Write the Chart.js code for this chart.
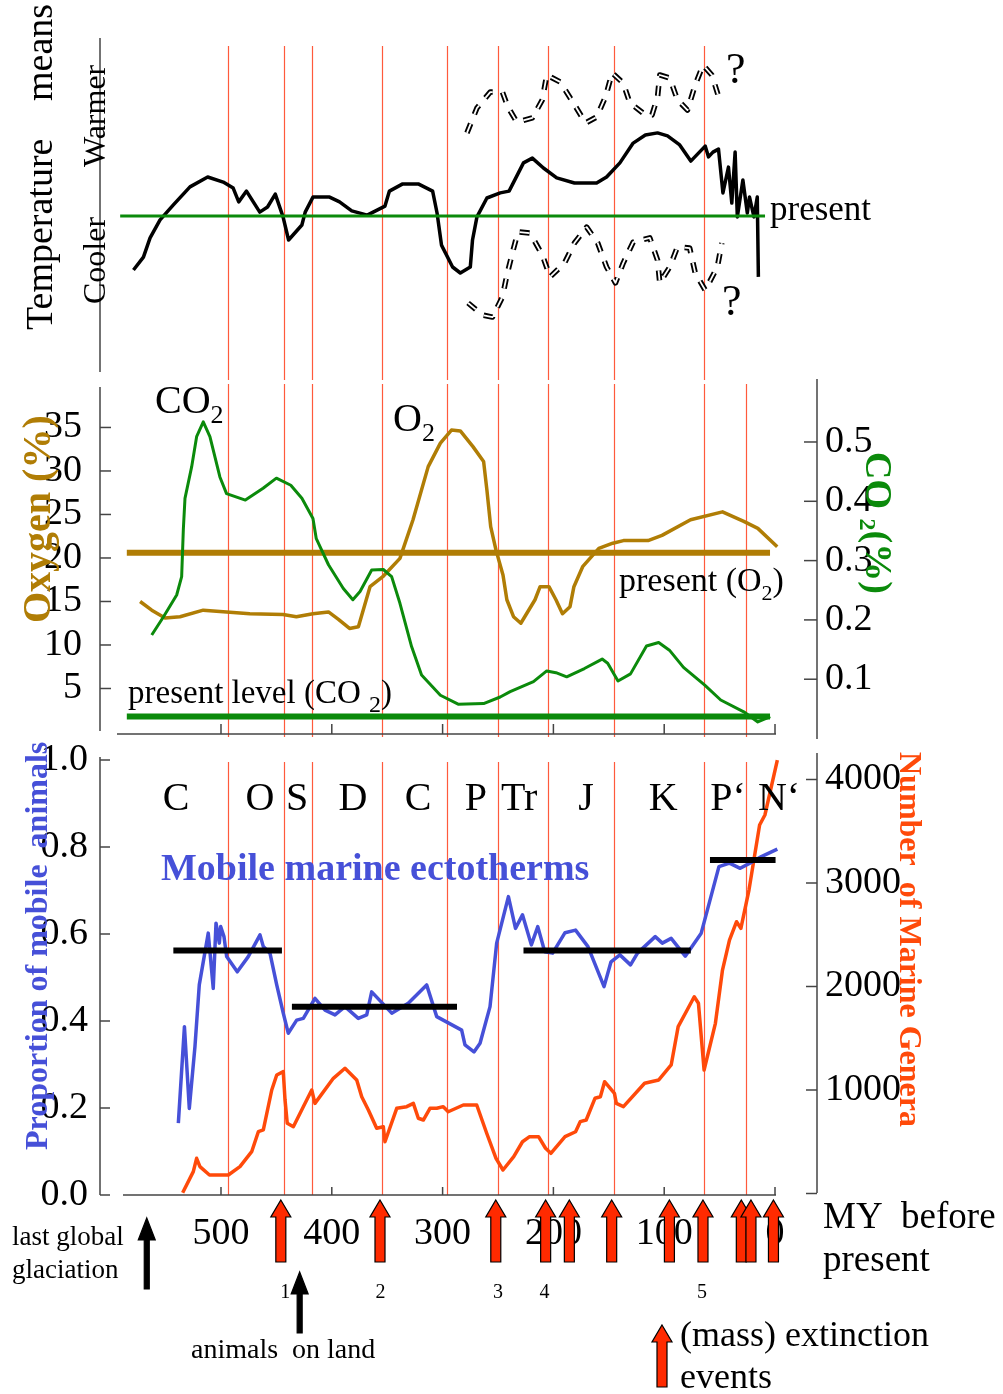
<!DOCTYPE html>
<html>
<head>
<meta charset="utf-8">
<script src="https://cdn.jsdelivr.net/npm/chart.js@4.4.1/dist/chart.umd.min.js"></script>
<style>
  body { margin: 0; background: #fff; }
  #wrap { position: relative; width: 1003px; height: 1394px; }
  #wrap canvas { position: absolute; left: 0; top: 0; }
</style>
</head>
<body>
<div id="wrap">
  <canvas id="tempChart" width="1003" height="1394"></canvas>
  <canvas id="gasChart" width="1003" height="1394"></canvas>
  <canvas id="lifeChart" width="1003" height="1394"></canvas>
</div>
<script>
// ---- data (x = million years before present) ----
const xTicks = [500, 400, 300, 200, 100, 0];
const periodBoundsMY = [494, 443, 418, 355, 296, 250, 205, 145, 64, 26];
const periodLabels = ['C', 'O', 'S', 'D', 'C', 'P', 'Tr', 'J', 'K', 'P\u2018', 'N\u2018'];
const periodLabelMY = [540.6, 464.8, 431.4, 380.9, 322.2, 269.9, 231, 170.6, 101, 42.4, -3.6];

// temperature (relative units, 0 = present)
const tempMY = [579,570,564,555,543,528,512,498,489,484,477,465,458,451,444,439,427,424,417,402,393,382,368,352,348,336,322,309,305,301,291,284,275,273,269,260,248,240,227,219,209,197,181,161,152,140,128,117,106,97,86,76,63,60,56,51,47,42,39,36,34,29,25,23,19,16,15];
const tempVal = [-1.8,-1.37,-0.73,-0.13,0.37,0.97,1.3,1.13,0.93,0.47,0.83,0.13,0.3,0.73,-0.03,-0.8,-0.3,0.13,0.63,0.63,0.47,0.17,0.03,0.33,0.83,1.07,1.07,0.83,0.1,-0.97,-1.7,-1.9,-1.7,-0.8,-0.03,0.6,0.77,0.83,1.77,1.93,1.6,1.27,1.1,1.1,1.3,1.77,2.43,2.7,2.77,2.67,2.37,1.83,2.33,1.97,2.13,2.23,0.77,1.63,0.43,2.13,-0.03,1.2,0.1,0.63,-0.03,0.63,-2.03];
const warmMY = [278,269,257,246,241,233,219,210,206,194,182,171,161,153,147,137,131,117,111,106,104,95,88,79,72,65,57,50];
const warmVal = [2.77,3.6,4.13,4.13,3.63,3.13,3.27,3.87,4.7,4.47,3.77,3.1,3.3,3.97,4.77,4.43,3.77,3.37,3.37,3.97,4.7,4.6,3.87,3.53,4.37,5.03,4.7,3.87];
const coolMY = [277,264,255,246,242,237,232,221,210,203,190,181,170,160,152,144,137,128,113,106,104,95,88,77,72,63,52,48];
const coolVal = [-2.9,-3.3,-3.37,-2.7,-1.97,-1.23,-0.53,-0.57,-1.3,-2.03,-1.57,-0.9,-0.37,-0.9,-1.7,-2.23,-1.57,-0.87,-0.73,-1.47,-2.23,-1.7,-1.03,-1.07,-1.9,-2.47,-1.7,-0.9];
const presentTemp = 0;
const tempPresentSpan = [591, 9];

// oxygen (%) and CO2 (%)
const o2MY = [573,562.5,550.5,537,516,495,474,444,432,417,403,394,384,376,365.5,354,338.5,326.7,313,302,292,284,272.6,263,260,256.6,251.8,245.5,242,236,229.4,216.6,212,204,197.7,191.8,185,181.5,173.6,159,146.4,136.8,114.6,102,76.2,47.4,28.2,15.5,-2];
const o2Val = [15,14,13.1,13.25,14,13.8,13.6,13.5,13.25,13.6,13.8,12.95,11.9,12.1,16.7,17.85,19.95,24.4,30.5,33.2,34.7,34.6,32.8,31.1,27.8,23.6,20.9,18.05,15.2,13.25,12.5,15.2,16.7,16.7,15.2,13.6,14.4,16.7,19,21.1,21.7,22,22,22.6,24.4,25.3,24.2,23.4,21.3];
const co2MY = [562.5,552,540,535.5,534,532.5,526.5,522,516,510,501,495,478,462,450,437,427,417,414,403,389.6,381,374.5,364,353.5,346,338.5,328,319,302,286,263,248,239,218,206,197.7,188,172,156,151,141.7,130.4,116,105,95.3,82.6,63.4,49,28.2,15.5,4.3];
const co2Val = [0.1745,0.205,0.242,0.273,0.352,0.405,0.458,0.509,0.534,0.509,0.441,0.413,0.402,0.422,0.439,0.427,0.405,0.371,0.337,0.293,0.253,0.234,0.248,0.284,0.285,0.273,0.228,0.155,0.107,0.073,0.058,0.059,0.070,0.079,0.096,0.114,0.111,0.104,0.118,0.134,0.127,0.097,0.109,0.156,0.162,0.149,0.120,0.090,0.065,0.045,0.028,0.037];
const presentO2 = 20.6;
const presentCO2 = 0.037;
const gasPresentSpan = [585, 4.5];
const o2Ticks = [5, 10, 15, 20, 25, 30, 35];
const co2Ticks = [0.1, 0.2, 0.3, 0.4, 0.5];

// proportion of mobile animals and number of marine genera
const mobileMY = [538.5,533,528.6,523.5,519.6,511.5,507,504.5,501.5,500.3,497.3,494.9,485.3,475.4,464.8,461.8,455.8,449.7,443.8,439.3,431.7,425.7,415.2,406.1,397.1,388.1,376.1,368.5,364,345.9,331,314.4,305.3,282.8,279.8,271.7,266.2,257.2,251.2,240.6,234.2,227.9,219.9,214.1,207.8,200.7,189.5,180,168.8,154.3,148,140,130.4,124.1,108.1,101.7,93.7,81,66.6,50.6,41.1,31.4,21.8,12.3,-2.1];
const mobileVal = [0.165,0.387,0.199,0.341,0.483,0.602,0.475,0.625,0.579,0.617,0.594,0.548,0.513,0.548,0.598,0.571,0.556,0.483,0.418,0.372,0.402,0.406,0.452,0.425,0.414,0.433,0.406,0.414,0.467,0.418,0.441,0.483,0.410,0.379,0.345,0.329,0.349,0.433,0.579,0.686,0.613,0.644,0.575,0.617,0.559,0.556,0.603,0.609,0.571,0.479,0.536,0.552,0.529,0.556,0.594,0.579,0.590,0.549,0.602,0.755,0.763,0.751,0.764,0.778,0.795];
const generaMY = [534.6,525,522,519,510.4,493.4,482.9,472.3,466.3,461.8,454.2,449.7,443.8,442.2,440.2,434.7,425.7,418.1,415.2,398.6,388.1,377.5,373,367,359.5,353.5,352,341.4,332.4,326.4,321.9,317.4,311.4,305.3,299.4,294.9,281.3,269.2,260.2,251.8,245.5,235.8,227.9,221.5,213.4,207.1,202.3,189.5,180,175.8,170.4,162.5,157.6,153.8,144.9,143.2,136.8,117.7,104.9,93.7,87.4,79.3,72.9,69.1,64,53.8,47.4,41.1,34.7,30.8,23.5,13.9,9.1,-2.1];
const generaVal = [8,211,340,259,179,179,259,404,597,614,1000,1145,1177,903,678,645,839,1000,871,1113,1210,1097,935,807,630,645,500,823,839,871,727,710,823,823,839,790,855,855,582,340,227,356,500,549,549,437,388,549,597,694,710,920,935,1080,968,871,839,1065,1097,1242,1612,1773,1901,1838,1193,1644,2159,2449,2626,2562,2932,3560,3657,4188];
const meanBarFrom = [543, 436, 227, 58.7];
const meanBarTo = [445, 287, 76, -0.5];
const meanBarVal = [0.562, 0.433, 0.562, 0.770];
const propTicks = [0, 0.2, 0.4, 0.6, 0.8, 1.0];
const generaTicks = [0, 1000, 2000, 3000, 4000];

// events
const extinctionMY = [446, 356.5, 252, 207, 185.6, 147.4, 95.3, 65, 30.4, 21.7, 1.4];
const bigFiveMY = [442, 356, 250, 208, 66];
const glaciationMY = 567;
const landAnimalsMY = 429;

// ---- styling helpers ----
const FONT = "'Liberation Serif', 'Times New Roman', serif";
const AXIS = '#444';
const GREEN = '#0b8a0b';
const BROWN = '#b07d05';
const BLUE = '#4650d8';
const ORANGE = '#ff4a0a';
const EVENT_RED = '#ff2a00';
Chart.defaults.font.family = FONT;
Chart.defaults.color = '#000';

function series(xs, ys, color, width, axis, dash) {
    return {
        data: xs.map((x, i) => ({ x: x, y: ys[i] })),
        borderColor: color,
        borderWidth: width,
        borderDash: dash || [],
        yAxisID: axis || 'y',
        pointRadius: 0,
        tension: 0,
        fill: false,
        borderJoinStyle: 'round',
        clip: false
    };
}

function xScale(withLabels) {
    const s = {
        type: 'linear', reverse: true, min: -37.9, max: 609.2,
        display: withLabels,
        grid: { display: false, drawTicks: false },
        border: { display: false },
        afterBuildTicks: sc => { sc.ticks = xTicks.map(v => ({ value: v })); },
        ticks: { autoSkip: false, maxRotation: 0, padding: 16, color: '#000', font: { size: 38 } }
    };
    if (withLabels) s.afterFit = sc => { sc.height = 70; };
    return s;
}

function yScale(pos, min, max, tickVals, fmt, width, pad) {
    return {
        position: pos, min: min, max: max,
        grid: { display: false, drawTicks: false },
        border: { display: false },
        afterBuildTicks: sc => { sc.ticks = tickVals.map(v => ({ value: v })); },
        afterFit: sc => { sc.width = width; },
        ticks: { padding: pad, color: '#000', font: { size: 38 }, callback: v => fmt(v) }
    };
}

function baseOptions(padding, scales) {
    return {
        responsive: false, devicePixelRatio: 1, animation: false, events: [],
        layout: { padding: padding },
        plugins: { legend: { display: false }, tooltip: { enabled: false } },
        scales: scales
    };
}

function stroke(ctx, pts, color, w) {
    ctx.save();
    ctx.strokeStyle = color || AXIS;
    ctx.lineWidth = w || 1.5;
    ctx.beginPath();
    pts.forEach(([x, y], i) => i ? ctx.lineTo(x, y) : ctx.moveTo(x, y));
    ctx.stroke();
    ctx.restore();
}

// text with optional subscripts: parts = [[text, size, dy]]
function rich(ctx, parts, x, y, o) {
    o = o || {};
    ctx.save();
    ctx.translate(x, y);
    if (o.rot) ctx.rotate(o.rot);
    ctx.fillStyle = o.color || '#000';
    ctx.textBaseline = 'alphabetic';
    ctx.textAlign = 'left';
    const wt = o.bold ? 'bold ' : '';
    let total = 0;
    parts.forEach(([t, s]) => { ctx.font = wt + s + 'px ' + FONT; total += ctx.measureText(t).width; });
    let cx = o.center ? -total / 2 : 0;
    parts.forEach(([t, s, dy]) => {
        ctx.font = wt + s + 'px ' + FONT;
        ctx.fillText(t, cx, dy || 0);
        cx += ctx.measureText(t).width;
    });
    ctx.restore();
}

function arrow(ctx, x, yTop, yBot, shaftW, headW, headL, fill) {
    ctx.save();
    ctx.beginPath();
    ctx.moveTo(x, yTop);
    ctx.lineTo(x + headW / 2, yTop + headL);
    ctx.lineTo(x + shaftW / 2, yTop + headL);
    ctx.lineTo(x + shaftW / 2, yBot);
    ctx.lineTo(x - shaftW / 2, yBot);
    ctx.lineTo(x - shaftW / 2, yTop + headL);
    ctx.lineTo(x - headW / 2, yTop + headL);
    ctx.closePath();
    ctx.fillStyle = fill;
    ctx.fill();
    ctx.strokeStyle = '#000';
    ctx.lineWidth = 1.2;
    ctx.stroke();
    ctx.restore();
}

function periodLines(chart, bounds, y0, y1) {
    const xs = chart.scales.x;
    bounds.forEach(m => {
        const px = Math.round(xs.getPixelForValue(m)) + 0.5;
        stroke(chart.ctx, [[px, y0], [px, y1]], '#ff5a3c', 1.2);
    });
}

function decor(id, before, after) {
    return { id: id, beforeDatasetsDraw: c => before(c), afterDatasetsDraw: c => after(c) };
}

const UP = -Math.PI / 2;
const DOWN = Math.PI / 2;

// ---- panel 1: temperature ----
new Chart(document.getElementById('tempChart'), {
    type: 'line',
    data: {
        datasets: [
            series(tempPresentSpan, [presentTemp, presentTemp], GREEN, 3),
            series(tempMY, tempVal, '#000', 3.5),
            series(warmMY, warmVal, '#fff', 1.8, 'y', [10, 10]),
            series(coolMY, coolVal, '#fff', 1.8, 'y', [10, 10]),
            series(warmMY, warmVal, '#000', 5.5, 'y', [10, 10]),
            series(coolMY, coolVal, '#000', 5.5, 'y', [10, 10])
        ]
    },
    options: baseOptions({ left: 100, right: 186, top: 38, bottom: 1022 }, {
        x: xScale(false),
        y: { display: false, min: -5.2, max: 5.933 }
    }),
    plugins: [decor('tempDecor',
        c => periodLines(c, periodBoundsMY.slice(0, 9), 46, 380),
        c => {
            const ctx = c.ctx;
            stroke(ctx, [[100, 38], [100, 372]]);
            rich(ctx, [['Temperature', 38]], 52, 330, { rot: UP });
            rich(ctx, [['means', 38]], 52, 101, { rot: UP });
            rich(ctx, [['Cooler', 32]], 105, 304, { rot: UP });
            rich(ctx, [['Warmer', 32]], 105, 167, { rot: UP });
            rich(ctx, [['present', 35]], 770, 220);
            rich(ctx, [['?', 44]], 726, 83);
            rich(ctx, [['?', 44]], 722, 315);
        })]
});

// ---- panel 2: oxygen and CO2 ----
new Chart(document.getElementById('gasChart'), {
    type: 'line',
    data: {
        datasets: [
            series(co2MY, co2Val, GREEN, 3, 'yR'),
            series(o2MY, o2Val, BROWN, 3.5, 'yL'),
            series(gasPresentSpan, [presentO2, presentO2], BROWN, 6, 'yL'),
            series(gasPresentSpan, [presentCO2, presentCO2], GREEN, 6, 'yR')
        ]
    },
    options: baseOptions({ left: 10, right: 66, top: 379, bottom: 655 }, {
        x: xScale(false),
        yL: yScale('left', -0.805, 40.57, o2Ticks, v => String(v), 90, 18),
        yR: yScale('right', -0.0008, 0.6062, co2Ticks, v => v.toFixed(1), 120, 8)
    }),
    plugins: [decor('gasDecor',
        c => periodLines(c, periodBoundsMY, 384, 737),
        c => {
            const ctx = c.ctx, xs = c.scales.x, yL = c.scales.yL, yR = c.scales.yR;
            stroke(ctx, [[100, 387], [100, 731]]);
            yL.ticks.forEach(t => { const p = yL.getPixelForValue(t.value); stroke(ctx, [[100, p], [111, p]]); });
            stroke(ctx, [[817, 379], [817, 739]]);
            yR.ticks.forEach(t => { const p = yR.getPixelForValue(t.value); stroke(ctx, [[804, p], [817, p]]); });
            stroke(ctx, [[117, 734], [776, 734]]);
            xTicks.forEach(v => { const p = xs.getPixelForValue(v); stroke(ctx, [[p, 734], [p, 724]]); });

            rich(ctx, [['CO', 40], ['2', 26, 10]], 155, 413);
            rich(ctx, [['O', 40], ['2', 26, 10]], 393, 431);
            rich(ctx, [['present (O', 34], ['2', 22, 9], [')', 34]], 619, 591);
            rich(ctx, [['present level (CO ', 33], ['2', 24, 9], [')', 33]], 128, 703);
            rich(ctx, [['Oxygen (%)', 40]], 50, 623, { rot: UP, bold: true, color: BROWN });
            rich(ctx, [['CO', 38], [' ', 38], ['2', 24, 6], ['(%)', 38]], 866, 452, { rot: DOWN, bold: true, color: GREEN });
        })]
});

// ---- panel 3: mobile animals and marine genera ----
new Chart(document.getElementById('lifeChart'), {
    type: 'line',
    data: {
        datasets: meanBarFrom.map((f, i) => series([f, meanBarTo[i]], [meanBarVal[i], meanBarVal[i]], '#000', 6, 'yL'))
            .concat([
                series(mobileMY, mobileVal, BLUE, 3.5, 'yL'),
                series(generaMY, generaVal, ORANGE, 3.5, 'yR')
            ])
    },
    options: baseOptions({ left: 10, right: 66, top: 752, bottom: 129 }, {
        x: xScale(true),
        yL: yScale('left', 0, 1.0184, propTicks, v => v.toFixed(1), 90, 12),
        yR: yScale('right', -14.5, 4265.7, generaTicks, v => (v === 0 ? '' : String(v)), 120, 8)
    }),
    plugins: [decor('lifeDecor',
        c => periodLines(c, periodBoundsMY, 762, 1195),
        c => {
            const ctx = c.ctx, xs = c.scales.x, yL = c.scales.yL, yR = c.scales.yR;
            const bottom = c.chartArea.bottom;
            stroke(ctx, [[100, 757], [100, bottom]]);
            yL.ticks.forEach(t => { const p = yL.getPixelForValue(t.value); stroke(ctx, [[100, p], [110, p]]); });
            stroke(ctx, [[817, 753], [817, 1193]]);
            yR.ticks.forEach(t => { const p = yR.getPixelForValue(t.value); stroke(ctx, [[806, p], [817, p]]); });
            stroke(ctx, [[123, bottom], [776, bottom]]);
            xTicks.forEach(v => { const p = xs.getPixelForValue(v); stroke(ctx, [[p, bottom], [p, bottom - 8]]); });

            periodLabels.forEach((l, i) => rich(ctx, [[l, 40]], xs.getPixelForValue(periodLabelMY[i]), 810, { center: true }));
            rich(ctx, [['Mobile marine ectotherms', 38]], 161, 880, { bold: true, color: BLUE });
            rich(ctx, [['Proportion of mobile  animals', 32]], 47, 1150, { rot: UP, bold: true, color: BLUE });
            rich(ctx, [['Number  of Marine Genera', 32]], 900, 752, { rot: DOWN, bold: true, color: ORANGE });

            // extinction events and milestones
            extinctionMY.forEach(m => arrow(ctx, xs.getPixelForValue(m), 1200, 1262, 10, 20, 17, EVENT_RED));
            bigFiveMY.forEach((m, i) => rich(ctx, [[String(i + 1), 20]], xs.getPixelForValue(m), 1298, { center: true }));
            arrow(ctx, xs.getPixelForValue(glaciationMY), 1218, 1289, 5, 17, 22, '#000');
            arrow(ctx, xs.getPixelForValue(landAnimalsMY), 1272, 1333, 5, 17, 22, '#000');

            rich(ctx, [['last global', 27]], 12, 1245);
            rich(ctx, [['glaciation', 27]], 12, 1278);
            rich(ctx, [['animals  on land', 28]], 191, 1358);
            rich(ctx, [['MY  before', 37]], 823, 1228);
            rich(ctx, [['present', 37]], 823, 1271);
            arrow(ctx, 662, 1325, 1387, 10, 20, 17, EVENT_RED);
            rich(ctx, [['(mass) extinction', 36]], 680, 1346);
            rich(ctx, [['events', 36]], 680, 1388);
        })]
});
</script>
</body>
</html>
